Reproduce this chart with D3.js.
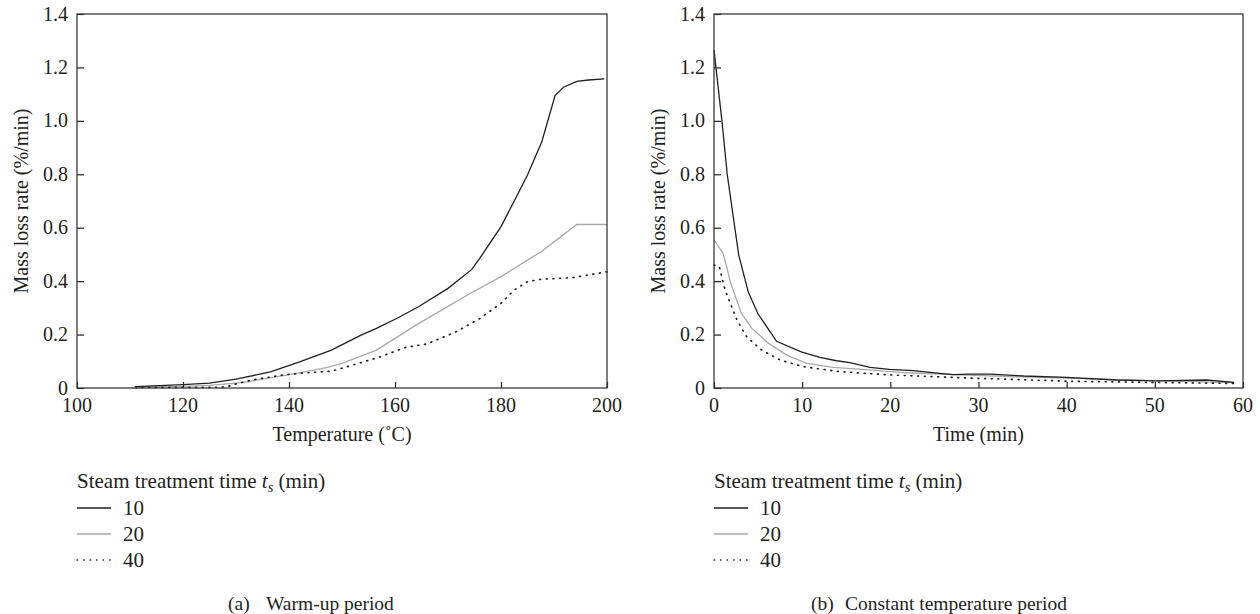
<!DOCTYPE html>
<html>
<head>
<meta charset="utf-8">
<script src="https://cdn.jsdelivr.net/npm/d3@7"></script>
<style>
  body { margin: 0; background: #fff; }
  svg { display: block; }
  text { font-family: 'Liberation Serif', 'Times New Roman', serif; fill: #231f20; }
</style>
</head>
<body>
<svg id="chart" width="1260" height="614"></svg>
<script>
// (a) warm-up period: temperature (C) vs mass loss rate (%/min)
const warmT10 = [111, 120, 125, 130, 136.5, 142, 148, 153.5, 156.5, 160.5, 164.5, 170, 174.5, 176.5, 180, 182.5, 185, 187.7, 190.2, 191.8, 194.3, 196.5, 199.5]
const warmV10 = [0.005, 0.013, 0.018, 0.033, 0.06, 0.098, 0.142, 0.197, 0.223, 0.262, 0.305, 0.373, 0.444, 0.5, 0.604, 0.7, 0.797, 0.922, 1.095, 1.126, 1.148, 1.153, 1.157]
const warmT20 = [111, 120, 125, 131.5, 137, 142, 147, 150, 156.5, 164.5, 170.5, 174, 180, 187.7, 194.3, 200]
const warmV20 = [0.003, 0.006, 0.01, 0.021, 0.04, 0.057, 0.076, 0.092, 0.142, 0.242, 0.311, 0.352, 0.417, 0.512, 0.612, 0.612]
const warmT40 = [111, 120, 128, 130, 133, 139, 142, 148, 150, 157, 162, 166, 171.5, 176, 180, 182.5, 185, 187.5, 193.5, 200]
const warmV40 = [0.002, 0.002, 0.003, 0.015, 0.03, 0.049, 0.055, 0.063, 0.074, 0.115, 0.152, 0.165, 0.21, 0.26, 0.317, 0.367, 0.398, 0.407, 0.413, 0.435]

// (b) constant temperature period: time (min) vs mass loss rate (%/min)
const constT10 = [0, 0.9, 1.5, 2.8, 3.9, 5.0, 7.1, 9.9, 12, 13.9, 15.4, 17.7, 19.9, 22.6, 25.6, 27.1, 29, 31.3, 35.1, 40, 45.6, 50.2, 55.8, 59]
const constV10 = [1.265, 1.0, 0.8, 0.498, 0.358, 0.277, 0.175, 0.135, 0.115, 0.102, 0.095, 0.077, 0.07, 0.065, 0.055, 0.05, 0.052, 0.052, 0.045, 0.04, 0.03, 0.027, 0.03, 0.021]
const constT20 = [0, 1.06, 1.9, 3.1, 4.3, 6.2, 8.2, 10.5, 13.5, 18, 21.8, 29.4, 40.7, 51.8, 59]
const constV20 = [0.555, 0.502, 0.392, 0.28, 0.223, 0.167, 0.124, 0.092, 0.077, 0.067, 0.057, 0.047, 0.036, 0.026, 0.02]
const constT40 = [0, 0.6, 1.25, 2.6, 3.7, 5.4, 7.5, 10.1, 14.3, 19.9, 29.2, 40.7, 52, 59]
const constV40 = [0.46, 0.455, 0.367, 0.255, 0.192, 0.142, 0.105, 0.08, 0.061, 0.049, 0.037, 0.025, 0.02, 0.017]

const seriesNames = ['10', '20', '40']
const yTicks = [0, 0.2, 0.4, 0.6, 0.8, 1.0, 1.2, 1.4]
const warmTicks = [100, 120, 140, 160, 180, 200]
const timeTicks = [0, 10, 20, 30, 40, 50, 60]

const styles = {
  '10': { stroke: '#231f20', dash: null },
  '20': { stroke: '#a7a9ac', dash: null },
  '40': { stroke: '#231f20', dash: '0.9,5.8' }
}

const svg = d3.select('#chart')
const zip = (xs, ys) => xs.map((x, i) => ({ x, y: ys[i] }))

function panel({ left, right, domain, ticks, xTitle, tag, caption, tagX, captionX, series }) {
  const top = 14
  const bottom = 388
  const x = d3.scaleLinear().domain(domain).range([left, right])
  const y = d3.scaleLinear().domain([0, 1.4]).range([bottom, top])
  const g = svg.append('g')

  // lines
  const line = d3.line().x(d => x(d.x)).y(d => y(d.y))
  series.forEach(({ name, data }) => {
    g.append('path')
      .datum(data)
      .attr('d', line)
      .attr('fill', 'none')
      .attr('stroke', styles[name].stroke)
      .attr('stroke-width', name === '40' ? 1.7 : 1.3)
      .attr('stroke-linecap', name === '40' ? 'round' : 'butt')
      .attr('stroke-dasharray', styles[name].dash)
  })

  // axes, ticks pointing inward
  const xAxis = g.append('g')
    .attr('transform', `translate(0,${bottom})`)
    .call(d3.axisBottom(x).tickValues(ticks).tickSizeInner(-6).tickSizeOuter(0).tickFormat(''))
  const yAxis = g.append('g')
    .attr('transform', `translate(${left},0)`)
    .call(d3.axisLeft(y).tickValues(yTicks).tickSizeInner(-7).tickSizeOuter(0).tickFormat(''))
  ;[xAxis, yAxis].forEach(a => {
    a.select('.domain').remove()
    a.selectAll('line').attr('stroke', '#231f20').attr('stroke-width', 1.2)
  })

  g.append('rect')
    .attr('x', left).attr('y', top)
    .attr('width', right - left).attr('height', bottom - top)
    .attr('fill', 'none').attr('stroke', '#3a3a3a').attr('stroke-width', 1.3)

  // tick labels
  g.selectAll('.xl').data(ticks).join('text')
    .attr('x', d => x(d)).attr('y', 412)
    .attr('text-anchor', 'middle').attr('font-size', 20)
    .text(d => d)
  g.selectAll('.yl').data(yTicks).join('text')
    .attr('x', left - 9).attr('y', d => y(d) + 6.5)
    .attr('text-anchor', 'end').attr('font-size', 20)
    .text(d => d === 0 ? '0' : d3.format('.1f')(d))

  // titles
  g.append('text')
    .attr('x', (left + right) / 2).attr('y', 441)
    .attr('text-anchor', 'middle').attr('font-size', 20)
    .text(xTitle)
  g.append('text')
    .attr('transform', `translate(${left - 49},${(top + bottom) / 2}) rotate(-90)`)
    .attr('text-anchor', 'middle').attr('font-size', 20)
    .text('Mass loss rate (%/min)')

  // legend
  const lg = g.append('g')
  const title = lg.append('text').attr('x', left).attr('y', 488).attr('font-size', 21)
  title.append('tspan').text('Steam treatment time ')
  title.append('tspan').attr('font-style', 'italic').text('t')
  title.append('tspan').attr('font-style', 'italic').attr('font-size', 14.5).attr('dy', 4).text('s')
  title.append('tspan').attr('dy', -4).text(' (min)')
  seriesNames.forEach((name, i) => {
    const ly = 508 + i * 26
    lg.append('line')
      .attr('x1', left).attr('x2', left + 34)
      .attr('y1', ly).attr('y2', ly)
      .attr('stroke', styles[name].stroke)
      .attr('stroke-width', 1.3)
      .attr('stroke-linecap', name === '40' ? 'round' : 'butt')
      .attr('stroke-dasharray', name === '40' ? '0.6,5.9' : null)
    lg.append('text')
      .attr('x', left + 46).attr('y', ly + 6.5)
      .attr('font-size', 21)
      .text(name)
  })

  // caption
  g.append('text')
    .attr('x', tagX).attr('y', 610)
    .attr('font-size', 19.5)
    .text(tag)
  g.append('text')
    .attr('x', captionX).attr('y', 610)
    .attr('font-size', 19.5)
    .text(caption)
}

panel({
  left: 77,
  right: 607,
  domain: [100, 200],
  ticks: warmTicks,
  xTitle: 'Temperature (˚C)',
  tag: '(a)',
  caption: 'Warm-up period',
  tagX: 228,
  captionX: 266,
  series: [
    { name: '20', data: zip(warmT20, warmV20) },
    { name: '40', data: zip(warmT40, warmV40) },
    { name: '10', data: zip(warmT10, warmV10) }
  ]
})

panel({
  left: 714,
  right: 1243,
  domain: [0, 60],
  ticks: timeTicks,
  xTitle: 'Time (min)',
  tag: '(b)',
  caption: 'Constant temperature period',
  tagX: 811,
  captionX: 845,
  series: [
    { name: '20', data: zip(constT20, constV20) },
    { name: '40', data: zip(constT40, constV40) },
    { name: '10', data: zip(constT10, constV10) }
  ]
})
</script>
</body>
</html>
